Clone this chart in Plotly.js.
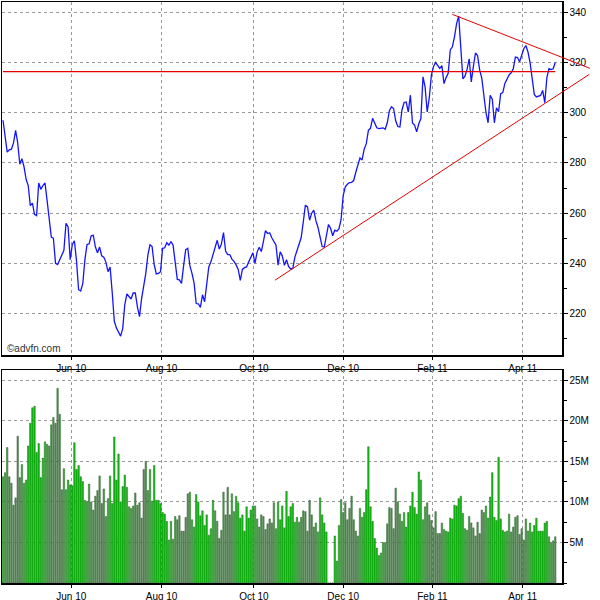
<!DOCTYPE html>
<html><head><meta charset="utf-8">
<script src="https://cdn.plot.ly/plotly-3.0.1.min.js"></script>
<style>html,body{margin:0;padding:0;background:#fff}#chart{width:600px;height:600px}</style>
</head><body><div id="chart"></div>
<script>
// Daily closing price (pence), one value per trading day
const price = [
297,290,284.3,285.2,285.5,288,293,288,279.5,281.7,
278.5,273.5,271,263,264,259.5,259,272,269.5,271,
272,265,258,250.5,250,240,239.5,241.5,243.5,245.2,
256,254.5,241.5,247.5,249,241,229.5,229,232,241.5,
247.5,247.8,251,251.2,246.5,244.2,246.5,243,242.5,240.5,
236.7,238.5,228.5,217,214.3,212.6,211,214,223.6,227.8,
227,225.8,228.2,228.2,222.7,218.8,226,230.8,236,243.4,
247.4,246.7,239.5,235.8,236,236.7,246,246.2,248.2,247.3,
248.7,247.2,240.3,233.6,233.4,232,239,245.5,246,239,
236,232.1,224,223.9,222.5,227.5,224.7,231,238.6,240.6,
243.4,245.8,249.2,245.7,247.7,252.3,244.9,243.5,243.5,241.7,
240.8,239.4,237.6,233.2,237.6,238.3,238.6,240.6,242.2,244.2,
240.1,244.5,246.4,244.7,248.7,253,251.9,252.2,250.2,248.7,
247.2,239.3,244.6,243,239.2,241.5,238.8,237.8,238,242.5,
245,248.3,250.3,256.5,263.2,262.5,257.2,260,261.2,257,
254.3,250.5,246.7,246.5,251.5,255.5,254,251,253.2,252.8,
253.8,257.5,267,270.5,271.5,272.2,272.3,273,276.3,279.7,
282,281.2,285.5,287.7,293,293.8,297.8,295.9,294,293.7,
293.7,294,293.4,296,300.8,302.4,301.7,296.8,294.5,294.3,
301.1,304.1,304.3,300.3,307,295.9,295.1,292.4,295.6,297.7,
314.3,310.3,300.3,306,315,318.4,320,319,317.7,318.8,
311.6,314,315.7,325,326.3,330.2,335.5,338.5,324,313.5,
314.6,317.3,321.5,312.3,318.5,323.8,322.8,317,313.8,306,
300,296,307,305.4,296,302,300.4,307.6,308,311.7,
313.2,315.1,315.9,317.5,322.2,322,320.3,322.6,325.5,326.8,
324.2,320,313.4,307.3,306.3,306.5,306.9,308.9,304,314,
317.6,317.2,317.5,320
];
// Daily volume, millions of shares
const volume = [
13.1,13.6,16.7,13.1,12.3,9.6,10.5,18.1,13.0,14.6,
12.3,12.7,16.9,19.7,21.6,21.8,16.1,17.2,13.0,15.4,
17.4,17.1,16.9,19.5,20.4,19.7,24.0,20.8,11.5,14.1,
11.5,12.7,12.1,12.0,17.3,14.0,14.5,13.1,12.5,10.2,
10.0,12.2,10.0,9.0,10.7,11.4,13.2,9.8,11.6,8.2,
10.4,13.2,9.8,18.0,12.7,15.9,10.0,11.9,13.3,11.8,
9.4,9.2,9.5,11.1,9.6,9.9,8.0,14.0,15.0,11.4,
14.0,10.1,14.5,10.2,10.2,9.8,8.7,8.5,7.6,5.3,
7.6,5.4,8.2,7.8,8.3,6.4,6.4,8.1,11.0,11.2,
7.8,6.9,10.9,10.0,
8.3,8.9,7.1,8.4,5.9,6.7,10.2,8.9,7.6,
5.5,6.5,11.2,8.4,11.8,8.4,11.0,8.8,10.7,9.9,
8.0,8.4,6.4,9.4,8.0,9.0,9.5,9.5,7.9,
6.9,8.4,8.2,6.6,7.3,7.9,7.4,9.9,6.7,10.0,
7.8,9.5,6.8,11.3,8.2,9.4,9.8,7.5,8.1,
7.5,8.1,8.9,8.8,6.4,10.2,8.4,6.9,7.4,6.3,
10.5,8.4,7.4,6.3,0,0,0,5.8,2.7,7.1,
10.3,8.7,9.9,7.8,9.2,10.7,7.8,6.4,5.8,
9.2,8.1,8.7,11.5,16.8,9.4,7.6,5.5,4.3,3.4,
3.7,5.0,5.0,7.3,9.3,9.2,6.7,11.7,10.0,
8.5,7.6,8.7,6.9,8.7,9.5,11.2,9.3,8.5,
13.7,12.7,7.8,9.4,9.9,8.4,7.7,6.8,8.8,6.1,
6.1,7.4,6.6,6.4,6.3,8.0,7.9,9.6,9.5,
10.4,10.7,8.6,6.7,6.5,8.2,7.4,6.8,5.8,7.5,
6.1,9.0,8.7,9.5,8.0,10.6,13.6,8.1,7.7,15.5,
7.9,6.5,6.3,6.4,8.5,6.3,6.9,8.1,8.3,6.0,
6.7,5.3,7.9,6.4,7.4,6.3,7.1,8.0,6.4,6.4,
6.4,7.4,7.6,5.7,5.0,5.2,5.7
];
// Trading-day index of the first session of each labelled month
const monthTickIdx = [32.5, 75.5, 119.5, 162, 204.5, 247.5];
const monthTickText = ['Jun 10','Aug 10','Oct 10','Dec 10','Feb 11','Apr 11'];
const priceTicks = [220, 240, 260, 280, 300, 320, 340];
const volTicks = [5, 10, 15, 20, 25];
const volTickText = ['5M', '10M', '15M', '20M', '25M'];
// Drawn reference lines (trading-day index, price)
const refLevel = 316.4;
const trendUpperIdx = [214, 279.5];
const trendUpperPrice = [339.2, 317.7];
const trendLowerIdx = [129.5, 279.2];
const trendLowerPrice = [233.3, 315.3];

const idx = price.map((_, i) => i);
const xRange = [-0.48, 266.2];
const xDom = [2/600, 562/600];
const yPriceRange = [203.5, 344];
const yPriceDom = [1 - 355/600, 1 - 2.3/600];
const yVolRange = [0, 26.26];
const yVolDom = [1 - 583/600, 1 - 370/600];

function px(i) { return xDom[0] + (i - xRange[0]) / (xRange[1] - xRange[0]) * (xDom[1] - xDom[0]); }
function py(p) { return yPriceDom[0] + (p - yPriceRange[0]) / (yPriceRange[1] - yPriceRange[0]) * (yPriceDom[1] - yPriceDom[0]); }

const font = {family: 'Liberation Sans, Arial, sans-serif', size: 10, color: '#000'};
const gridc = '#9a9a9a';

const xCommon = {
  range: xRange, domain: xDom, tickmode: 'array', tickvals: monthTickIdx, ticktext: monthTickText,
  showgrid: true, gridcolor: gridc, griddash: 'dot', gridwidth: 1,
  showline: true, linecolor: '#000', linewidth: 1.5, mirror: true,
  ticks: 'outside', ticklen: 3, tickcolor: '#000', zeroline: false, tickfont: font, fixedrange: true
};

const traces = [
  {type: 'scatter', mode: 'lines', x: idx, y: price, xaxis: 'x', yaxis: 'y',
   line: {color: 'rgb(20,20,255)', width: 1.3}, hoverinfo: 'skip'},
  {type: 'bar', x: idx, y: volume, xaxis: 'x2', yaxis: 'y2',
   marker: {color: 'rgb(0,205,0)', line: {color: 'rgb(80,80,80)', width: 0.5}}, hoverinfo: 'skip'}
];

const layout = {
  width: 600, height: 600, margin: {l: 0, r: 0, t: 0, b: 0},
  paper_bgcolor: '#fff', plot_bgcolor: '#fff', showlegend: false, bargap: 0.3,
  font: font,
  xaxis: Object.assign({}, xCommon, {anchor: 'y'}),
  xaxis2: Object.assign({}, xCommon, {anchor: 'y2'}),
  yaxis: {
    domain: yPriceDom, range: yPriceRange, side: 'right', anchor: 'x',
    tickmode: 'array', tickvals: priceTicks,
    showgrid: true, gridcolor: gridc, griddash: 'dot',
    showline: true, linecolor: '#000', linewidth: 1.5, mirror: true,
    ticks: 'outside', ticklen: 4, tickcolor: '#000',
    minor: {dtick: 10, tick0: 0, ticks: 'outside', ticklen: 3, tickcolor: '#000', showgrid: false},
    zeroline: false, tickfont: font, fixedrange: true
  },
  yaxis2: {
    domain: yVolDom, range: yVolRange, side: 'right', anchor: 'x2',
    tickmode: 'array', tickvals: volTicks, ticktext: volTickText,
    showgrid: true, gridcolor: gridc, griddash: 'dot',
    showline: true, linecolor: '#000', linewidth: 1.5, mirror: true,
    ticks: 'outside', ticklen: 4, tickcolor: '#000',
    minor: {dtick: 2.5, tick0: 0, ticks: 'outside', ticklen: 3, tickcolor: '#000', showgrid: false},
    zeroline: false, tickfont: font, fixedrange: true
  },
  shapes: [
    {type: 'line', xref: 'x', yref: 'y', x0: 0, x1: price.length - 1, y0: refLevel, y1: refLevel,
     line: {color: 'rgb(230,0,0)', width: 1.3}},
    {type: 'line', xref: 'paper', yref: 'paper',
     x0: px(trendUpperIdx[0]), x1: px(trendUpperIdx[1]), y0: py(trendUpperPrice[0]), y1: py(trendUpperPrice[1]),
     line: {color: 'rgb(230,0,0)', width: 1}},
    {type: 'line', xref: 'paper', yref: 'paper',
     x0: px(trendLowerIdx[0]), x1: px(trendLowerIdx[1]), y0: py(trendLowerPrice[0]), y1: py(trendLowerPrice[1]),
     line: {color: 'rgb(230,0,0)', width: 1}}
  ],
  annotations: [
    {xref: 'paper', yref: 'paper', x: 5/600, y: 1 - 348/600, xanchor: 'left', yanchor: 'middle',
     text: '©advfn.com', showarrow: false, font: {family: 'Liberation Sans, Arial, sans-serif', size: 10, color: '#333'}}
  ]
};

Plotly.newPlot('chart', traces, layout, {displayModeBar: false, staticPlot: true});
</script>
</body></html>
